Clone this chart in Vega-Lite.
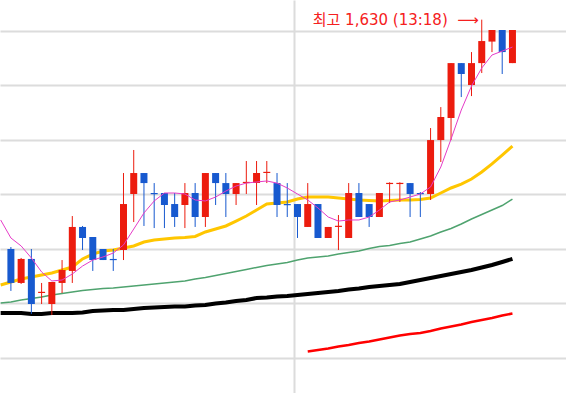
{
  "$schema": "https://vega.github.io/schema/vega-lite/v6.json",
  "width": 566,
  "height": 393,
  "autosize": {"type": "fit", "contains": "padding"},
  "padding": 0,
  "background": "#ffffff",
  "config": {
    "view": {"stroke": null},
    "axis": {"grid": true, "gridColor": "#dcdcdc", "gridWidth": 2, "labels": false, "ticks": false, "domain": false}
  },
  "datasets": {
    "bars": [
      {"idx": -1, "ma5": 1446.5, "ma20": 1386.9, "ma60": 1370.5, "ma120": 1361.3},
      {"idx": 0, "open": 1419.9, "high": 1421.7, "low": 1381.5, "close": 1388.8, "ma5": 1430.0, "ma20": 1389.7, "ma60": 1371.4, "ma120": 1361.3},
      {"idx": 1, "open": 1388.8, "high": 1411.7, "low": 1387.9, "close": 1410.8, "ma5": 1422.7, "ma20": 1392.4, "ma60": 1373.2, "ma120": 1361.3},
      {"idx": 2, "open": 1410.8, "high": 1419.9, "low": 1360.4, "close": 1369.5, "ma5": 1411.7, "ma20": 1394.3, "ma60": 1374.6, "ma120": 1360.4},
      {"idx": 3, "open": 1379.6, "high": 1388.8, "low": 1369.5, "close": 1380.7, "ma5": 1398.9, "ma20": 1396.1, "ma60": 1376.0, "ma120": 1360.4},
      {"idx": 4, "open": 1369.5, "high": 1389.7, "low": 1359.5, "close": 1389.7, "ma5": 1390.6, "ma20": 1397.9, "ma60": 1377.8, "ma120": 1361.3},
      {"idx": 5, "open": 1388.8, "high": 1409.8, "low": 1379.6, "close": 1400.7, "ma5": 1391.5, "ma20": 1400.7, "ma60": 1379.2, "ma120": 1361.3},
      {"idx": 6, "open": 1399.8, "high": 1450.1, "low": 1388.8, "close": 1440.1, "ma5": 1397.0, "ma20": 1403.4, "ma60": 1380.5, "ma120": 1361.3},
      {"idx": 7, "open": 1440.1, "high": 1441.0, "low": 1419.0, "close": 1430.0, "ma5": 1404.3, "ma20": 1410.8, "ma60": 1381.9, "ma120": 1361.8},
      {"idx": 8, "open": 1430.9, "high": 1430.9, "low": 1399.8, "close": 1409.8, "ma5": 1409.8, "ma20": 1415.3, "ma60": 1382.8, "ma120": 1363.1},
      {"idx": 9, "open": 1419.9, "high": 1419.9, "low": 1409.8, "close": 1409.8, "ma5": 1412.6, "ma20": 1418.1, "ma60": 1383.7, "ma120": 1363.6},
      {"idx": 10, "open": 1410.8, "high": 1419.9, "low": 1399.8, "close": 1409.7, "ma5": 1416.2, "ma20": 1419.0, "ma60": 1384.2, "ma120": 1364.0},
      {"idx": 11, "open": 1419.0, "high": 1489.5, "low": 1409.8, "close": 1461.1, "ma5": 1423.6, "ma20": 1420.8, "ma60": 1385.1, "ma120": 1364.0},
      {"idx": 12, "open": 1470.3, "high": 1510.6, "low": 1444.6, "close": 1489.5, "ma5": 1438.2, "ma20": 1422.7, "ma60": 1386.0, "ma120": 1365.0},
      {"idx": 13, "open": 1489.5, "high": 1489.5, "low": 1441.0, "close": 1480.3, "ma5": 1452.9, "ma20": 1426.3, "ma60": 1386.9, "ma120": 1365.9},
      {"idx": 14, "open": 1471.2, "high": 1480.3, "low": 1439.1, "close": 1470.1, "ma5": 1463.9, "ma20": 1428.2, "ma60": 1387.9, "ma120": 1366.3},
      {"idx": 15, "open": 1471.2, "high": 1471.2, "low": 1439.1, "close": 1460.2, "ma5": 1471.2, "ma20": 1429.1, "ma60": 1388.8, "ma120": 1366.8},
      {"idx": 16, "open": 1461.1, "high": 1471.2, "low": 1440.1, "close": 1449.2, "ma5": 1471.2, "ma20": 1430.0, "ma60": 1389.7, "ma120": 1367.2},
      {"idx": 17, "open": 1460.2, "high": 1480.3, "low": 1439.1, "close": 1471.2, "ma5": 1470.3, "ma20": 1430.4, "ma60": 1390.6, "ma120": 1367.2},
      {"idx": 18, "open": 1471.2, "high": 1480.3, "low": 1440.1, "close": 1449.2, "ma5": 1464.8, "ma20": 1431.4, "ma60": 1392.4, "ma120": 1368.2},
      {"idx": 19, "open": 1449.2, "high": 1489.5, "low": 1440.1, "close": 1489.5, "ma5": 1463.9, "ma20": 1435.5, "ma60": 1393.8, "ma120": 1368.6},
      {"idx": 20, "open": 1489.5, "high": 1489.5, "low": 1460.2, "close": 1480.3, "ma5": 1467.5, "ma20": 1438.2, "ma60": 1395.6, "ma120": 1370.0},
      {"idx": 21, "open": 1480.3, "high": 1489.5, "low": 1449.2, "close": 1470.3, "ma5": 1473.0, "ma20": 1441.0, "ma60": 1397.5, "ma120": 1370.9},
      {"idx": 22, "open": 1470.3, "high": 1480.3, "low": 1460.2, "close": 1480.3, "ma5": 1477.6, "ma20": 1445.5, "ma60": 1399.3, "ma120": 1372.3},
      {"idx": 23, "open": 1480.3, "high": 1500.5, "low": 1470.3, "close": 1481.4, "ma5": 1480.3, "ma20": 1450.1, "ma60": 1401.1, "ma120": 1373.2},
      {"idx": 24, "open": 1480.3, "high": 1500.5, "low": 1460.2, "close": 1489.5, "ma5": 1481.3, "ma20": 1455.6, "ma60": 1403.0, "ma120": 1375.0},
      {"idx": 25, "open": 1489.5, "high": 1500.5, "low": 1480.3, "close": 1490.6, "ma5": 1482.2, "ma20": 1461.1, "ma60": 1404.8, "ma120": 1375.5},
      {"idx": 26, "open": 1480.3, "high": 1489.5, "low": 1449.2, "close": 1460.2, "ma5": 1480.3, "ma20": 1462.0, "ma60": 1406.2, "ma120": 1376.4},
      {"idx": 27, "open": 1461.1, "high": 1480.3, "low": 1449.2, "close": 1460.0, "ma5": 1475.8, "ma20": 1463.0, "ma60": 1407.5, "ma120": 1376.9},
      {"idx": 28, "open": 1461.1, "high": 1461.1, "low": 1430.0, "close": 1449.2, "ma5": 1470.3, "ma20": 1465.7, "ma60": 1409.8, "ma120": 1377.8},
      {"idx": 29, "open": 1440.1, "high": 1480.3, "low": 1440.1, "close": 1461.1, "ma5": 1464.8, "ma20": 1467.5, "ma60": 1411.7, "ma120": 1378.7, "ma240": 1326.0},
      {"idx": 30, "open": 1461.1, "high": 1461.1, "low": 1430.0, "close": 1430.0, "ma5": 1457.5, "ma20": 1467.5, "ma60": 1412.6, "ma120": 1379.6, "ma240": 1327.4},
      {"idx": 31, "open": 1430.0, "high": 1440.1, "low": 1430.0, "close": 1440.1, "ma5": 1449.2, "ma20": 1467.5, "ma60": 1413.5, "ma120": 1380.5, "ma240": 1328.8},
      {"idx": 32, "open": 1440.1, "high": 1451.0, "low": 1419.0, "close": 1441.2, "ma5": 1445.5, "ma20": 1466.6, "ma60": 1415.3, "ma120": 1381.5, "ma240": 1330.6},
      {"idx": 33, "open": 1430.0, "high": 1480.3, "low": 1430.0, "close": 1471.2, "ma5": 1446.5, "ma20": 1465.7, "ma60": 1416.7, "ma120": 1382.8, "ma240": 1332.0},
      {"idx": 34, "open": 1471.2, "high": 1480.3, "low": 1449.2, "close": 1449.2, "ma5": 1446.5, "ma20": 1464.8, "ma60": 1418.1, "ma120": 1383.7, "ma240": 1333.8},
      {"idx": 35, "open": 1461.1, "high": 1461.1, "low": 1440.1, "close": 1449.2, "ma5": 1449.2, "ma20": 1464.3, "ma60": 1420.4, "ma120": 1385.1, "ma240": 1335.2},
      {"idx": 36, "open": 1449.2, "high": 1471.2, "low": 1449.2, "close": 1471.2, "ma5": 1455.6, "ma20": 1463.9, "ma60": 1422.2, "ma120": 1386.0, "ma240": 1337.0},
      {"idx": 37, "open": 1479.4, "high": 1481.0, "low": 1462.0, "close": 1480.5, "ma5": 1463.0, "ma20": 1464.3, "ma60": 1423.1, "ma120": 1386.9, "ma240": 1338.9},
      {"idx": 38, "open": 1479.4, "high": 1481.0, "low": 1463.0, "close": 1480.5, "ma5": 1464.8, "ma20": 1464.8, "ma60": 1425.0, "ma120": 1387.9, "ma240": 1340.7},
      {"idx": 39, "open": 1480.3, "high": 1480.3, "low": 1449.2, "close": 1470.3, "ma5": 1467.5, "ma20": 1464.8, "ma60": 1426.3, "ma120": 1389.7, "ma240": 1342.1},
      {"idx": 40, "open": 1471.2, "high": 1472.1, "low": 1449.2, "close": 1470.1, "ma5": 1470.3, "ma20": 1465.2, "ma60": 1429.1, "ma120": 1391.5, "ma240": 1343.0},
      {"idx": 41, "open": 1470.3, "high": 1530.7, "low": 1464.8, "close": 1519.7, "ma5": 1476.7, "ma20": 1466.6, "ma60": 1431.8, "ma120": 1393.4, "ma240": 1344.8},
      {"idx": 42, "open": 1519.7, "high": 1549.9, "low": 1499.6, "close": 1540.8, "ma5": 1495.0, "ma20": 1471.2, "ma60": 1435.5, "ma120": 1395.2, "ma240": 1347.1},
      {"idx": 43, "open": 1539.9, "high": 1590.2, "low": 1519.7, "close": 1590.2, "ma5": 1520.6, "ma20": 1475.8, "ma60": 1438.7, "ma120": 1397.0, "ma240": 1348.9},
      {"idx": 44, "open": 1590.2, "high": 1590.2, "low": 1559.1, "close": 1580.2, "ma5": 1547.2, "ma20": 1479.4, "ma60": 1442.8, "ma120": 1398.9, "ma240": 1350.8},
      {"idx": 45, "open": 1570.1, "high": 1600.3, "low": 1560.0, "close": 1590.2, "ma5": 1569.2, "ma20": 1484.0, "ma60": 1447.4, "ma120": 1400.7, "ma240": 1353.1},
      {"idx": 46, "open": 1590.2, "high": 1630.0, "low": 1581.1, "close": 1610.4, "ma5": 1585.7, "ma20": 1490.4, "ma60": 1451.5, "ma120": 1403.0, "ma240": 1354.9},
      {"idx": 47, "open": 1609.9, "high": 1620.5, "low": 1600.3, "close": 1620.5, "ma5": 1597.6, "ma20": 1497.8, "ma60": 1455.6, "ma120": 1405.3, "ma240": 1356.7},
      {"idx": 48, "open": 1620.5, "high": 1620.5, "low": 1580.2, "close": 1600.3, "ma5": 1601.2, "ma20": 1506.0, "ma60": 1459.7, "ma120": 1408.0, "ma240": 1359.0},
      {"idx": 49, "open": 1590.2, "high": 1620.5, "low": 1590.2, "close": 1620.5, "ma5": 1604.9, "ma20": 1514.2, "ma60": 1465.7, "ma120": 1410.8, "ma240": 1360.8}
    ],
    "note": [
      {"idx": 46, "price": 1630.0, "label": "최고 1,630 (13:18)", "arrow": "⟶"}
    ]
  },
  "data": {"name": "bars"},
  "encoding": {
    "x": {
      "field": "idx",
      "type": "quantitative",
      "scale": {"domain": [-0.576, 53.743], "nice": false, "zero": false},
      "axis": {"values": [27.64], "title": null}
    }
  },
  "layer": [
    {
      "mark": {"type": "line", "color": "#000000", "strokeWidth": 4, "clip": true},
      "encoding": {
        "y": {"field": "ma120", "type": "quantitative", "scale": {"domain": [1288, 1648], "nice": false, "zero": false}, "axis": {"values": [1320, 1370, 1420, 1470, 1520, 1570, 1620], "title": null}}
      }
    },
    {
      "transform": [{"filter": "isValid(datum.ma240)"}],
      "mark": {"type": "line", "color": "#ff0000", "strokeWidth": 2.5, "clip": true},
      "encoding": {
        "y": {"field": "ma240", "type": "quantitative", "scale": {"domain": [1288, 1648], "nice": false, "zero": false}, "axis": {"values": [1320, 1370, 1420, 1470, 1520, 1570, 1620], "title": null}}
      }
    },
    {
      "mark": {"type": "line", "color": "#4fa36f", "strokeWidth": 1.5, "clip": true},
      "encoding": {
        "y": {"field": "ma60", "type": "quantitative", "scale": {"domain": [1288, 1648], "nice": false, "zero": false}, "axis": {"values": [1320, 1370, 1420, 1470, 1520, 1570, 1620], "title": null}}
      }
    },
    {
      "mark": {"type": "line", "color": "#ffc600", "strokeWidth": 3, "clip": true},
      "encoding": {
        "y": {"field": "ma20", "type": "quantitative", "scale": {"domain": [1288, 1648], "nice": false, "zero": false}, "axis": {"values": [1320, 1370, 1420, 1470, 1520, 1570, 1620], "title": null}}
      }
    },
    {
      "transform": [{"filter": "isValid(datum.open)"}],
      "mark": {"type": "rule", "strokeWidth": 1, "clip": true},
      "encoding": {
        "y": {"field": "low", "type": "quantitative", "scale": {"domain": [1288, 1648], "nice": false, "zero": false}, "axis": {"values": [1320, 1370, 1420, 1470, 1520, 1570, 1620], "title": null}},
        "y2": {"field": "high"},
        "color": {"condition": {"test": "datum.close > datum.open", "value": "#ec1c0e"}, "value": "#1759cf"}
      }
    },
    {
      "transform": [{"filter": "isValid(datum.open)"}],
      "mark": {"type": "bar", "width": 7, "clip": true},
      "encoding": {
        "y": {"field": "open", "type": "quantitative", "scale": {"domain": [1288, 1648], "nice": false, "zero": false}, "axis": {"values": [1320, 1370, 1420, 1470, 1520, 1570, 1620], "title": null}},
        "y2": {"field": "close"},
        "color": {"condition": {"test": "datum.close > datum.open", "value": "#ec1c0e"}, "value": "#1759cf"}
      }
    },
    {
      "mark": {"type": "line", "color": "#e63cc8", "strokeWidth": 1, "clip": true},
      "encoding": {
        "y": {"field": "ma5", "type": "quantitative", "scale": {"domain": [1288, 1648], "nice": false, "zero": false}, "axis": {"values": [1320, 1370, 1420, 1470, 1520, 1570, 1620], "title": null}}
      }
    },
    {
      "data": {"name": "note"},
      "mark": {"type": "text", "align": "right", "baseline": "middle", "dx": -34, "fontSize": 15, "font": "DejaVu Sans, Noto Sans CJK KR", "color": "#f52020"},
      "encoding": {
        "y": {"field": "price", "type": "quantitative", "scale": {"domain": [1288, 1648], "nice": false, "zero": false}, "axis": {"values": [1320, 1370, 1420, 1470, 1520, 1570, 1620], "title": null}},
        "text": {"field": "label"}
      }
    },
    {
      "data": {"name": "note"},
      "mark": {"type": "text", "align": "right", "baseline": "middle", "dx": -3, "fontSize": 15, "font": "DejaVu Sans", "color": "#f52020"},
      "encoding": {
        "y": {"field": "price", "type": "quantitative", "scale": {"domain": [1288, 1648], "nice": false, "zero": false}, "axis": {"values": [1320, 1370, 1420, 1470, 1520, 1570, 1620], "title": null}},
        "text": {"field": "arrow"}
      }
    }
  ]
}
